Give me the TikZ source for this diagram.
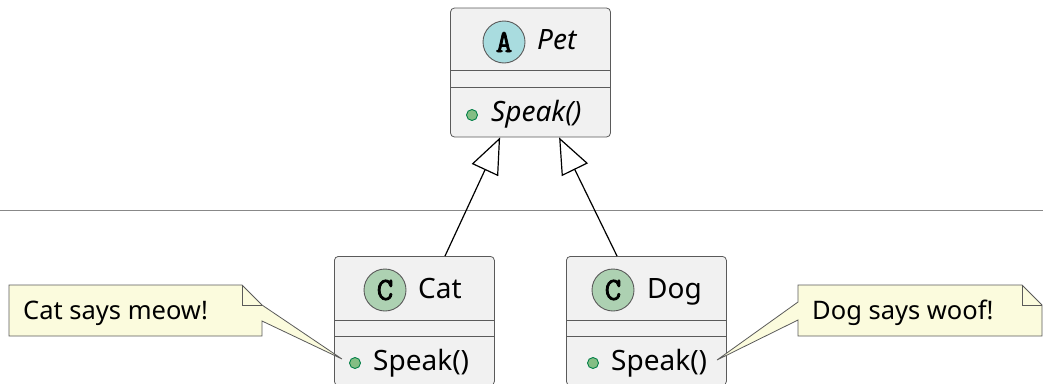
\documentclass[tikz,border=0pt]{standalone}
\usepackage{fontspec}
\setmainfont{Noto Sans}
\newfontfamily\umlmono[FakeBold=2.5]{Latin Modern Mono}
\usetikzlibrary{arrows.meta, positioning, calc}

\definecolor{boxfill}{HTML}{F1F1F1}
\definecolor{boxline}{HTML}{5A5A5A}
\definecolor{abscircle}{HTML}{A9DCDF}
\definecolor{clscircle}{HTML}{ADD1B2}
\definecolor{dotfill}{HTML}{84BE84}
\definecolor{dotline}{HTML}{038048}
\definecolor{notefill}{HTML}{FBFBDD}
\definecolor{sepgray}{HTML}{888888}

\newcommand\umlclassfont{\fontsize{28}{32}\selectfont}
\newcommand\umlnotefont{\fontsize{25.5}{30}\selectfont}
\newcommand\umliconfont{\fontsize{32}{34}\selectfont\umlmono}

\begin{document}
\begin{tikzpicture}[x=1pt, y=-1pt,
    classbox/.style={draw=boxline, fill=boxfill, rounded corners=4pt, line width=0.8pt,
        inner sep=0pt, minimum width=160pt, minimum height=129pt},
    rowline/.style={draw=boxline, line width=0.8pt},
    icon/.style={circle, draw=boxline, line width=0.9pt, minimum size=42pt, inner sep=0pt, font=\umliconfont},
    title/.style={anchor=base west, inner sep=0pt, font=\umlclassfont},
    pubdot/.style={circle, draw=dotline, fill=dotfill, line width=0.9pt, minimum size=11pt, inner sep=0pt},
    notebox/.style={draw=boxline, fill=notefill, line width=0.8pt},
    notetext/.style={anchor=base west, inner sep=0pt, font=\umlnotefont},
    extends/.style={line width=1.2pt, -{Triangle[length=36pt, width=29pt, fill=white]}}
]
\clip (0,0) rectangle (1043,383);

% Separator
\draw[sepgray, line width=1pt] (0,210.5) -- (1043,210.5);

% Abstract class Pet
\node[classbox] (pet) at (530.5,72.5) {};
\draw[rowline] ($(pet.north west)+(0,63)$) -- ($(pet.north east)+(0,63)$);
\draw[rowline] ($(pet.north west)+(0,80)$) -- ($(pet.north east)+(0,80)$);
\node[icon, fill=abscircle] (peticon) at (504,42) {A};
\node[title] (petname) at (537,49) {\itshape Pet};
\node[pubdot] (petdot) at (472,115) {};
\node[title] (petspeak) at (491,121) {\itshape Speak()};

% Classes Cat and Dog
\foreach \name/\txt/\bx/\ix/\tx/\dx in {cat/Cat/334/385/418/355, dog/Dog/566/613/647/593} {
    \node[classbox, anchor=north west] (\name) at (\bx,256) {};
    \draw[rowline] ($(\name.north west)+(0,64)$) -- ($(\name.north east)+(0,64)$);
    \draw[rowline] ($(\name.north west)+(0,80)$) -- ($(\name.north east)+(0,80)$);
    \node[icon, fill=clscircle] (\name icon) at (\ix,290) {C};
    \node[title] (\name title) at (\tx,298) {\txt};
    \node[pubdot] (\name dot) at (\dx,363) {};
    \node[title] (\name speak) at (\dx+18,370) {Speak()};
}

% Inheritance
\draw[extends] ($(cat.north west)+(111,0)$) -- ($(pet.south west)+(50,0)$);
\draw[extends] ($(dog.north west)+(51,0)$) -- ($(pet.south west)+(109,0)$);

% Notes
\coordinate (cattip) at (342,359);
\draw[notebox] (9,285) -- (242,285) -- (262,305) -- (cattip) -- (262,321) -- (262,336) -- (9,336) -- cycle;
\draw[notebox, fill=none] (242,285) -- (242,305) -- (262,305);
\node[notetext] (catnote) at (23,319) {Cat says meow!};

\coordinate (dogtip) at (717,360);
\draw[notebox] (798,285) -- (1022,285) -- (1042,305) -- (1042,336) -- (798,336) -- (798,320) -- (dogtip) -- (798,302) -- cycle;
\draw[notebox, fill=none] (1022,285) -- (1022,305) -- (1042,305);
\node[notetext] (dognote) at (812,319) {Dog says woof!};

\end{tikzpicture}
\end{document}
